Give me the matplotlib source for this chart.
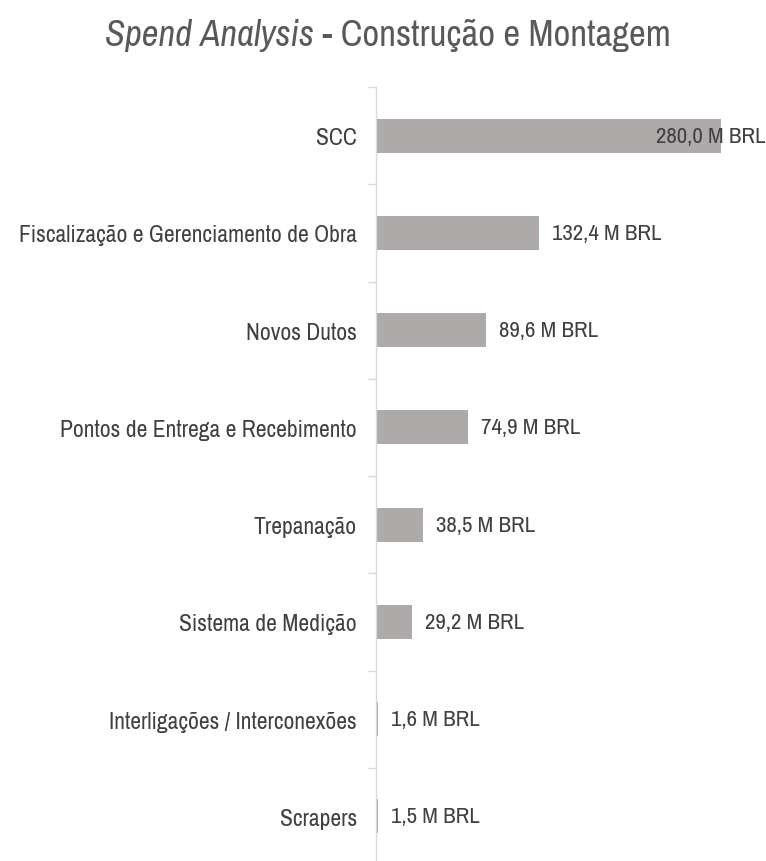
import numpy as np
import matplotlib
matplotlib.use("Agg")
import matplotlib.pyplot as plt
from matplotlib import font_manager

# data
categories = ['SCC', 'Fiscalização e Gerenciamento de Obra', 'Novos Dutos',
              'Pontos de Entrega e Recebimento', 'Trepanação', 'Sistema de Medição',
              'Interligações / Interconexões', 'Scrapers']
values = [280.0, 132.4, 89.6, 74.9, 38.5, 29.2, 1.6, 1.5]
labels = ['280,0 M BRL', '132,4 M BRL', '89,6 M BRL', '74,9 M BRL',
          '38,5 M BRL', '29,2 M BRL', '1,6 M BRL', '1,5 M BRL']

# look for a narrow font (Calibri-like), else Open Sans
names = sorted({f.name for f in font_manager.fontManager.ttflist})
narrow = [n for n in names if 'Narrow' in n or 'Condensed' in n]
plt.rcParams['font.family'] = narrow[:1] + ['Open Sans', 'DejaVu Sans']

W, H = 766, 862
fig = plt.figure(figsize=(W / 100, H / 100), dpi=100)
ax = fig.add_axes([376 / W, -4 / H, 1 - 376 / W, 778 / H])

y = np.arange(len(categories))
ax.barh(y, values, height=0.35, color='#aeaaaa')
ax.set_xlim(0, 316.5)
ax.set_ylim(len(categories) - 0.5, -0.5)

for s in ['top', 'right', 'bottom']:
    ax.spines[s].set_visible(False)
ax.spines['left'].set_color('#d9d9d9')
ax.spines['left'].set_linewidth(1.0)
ax.set_xticks([])

fs = 16.5 if narrow else 13.5
ax.set_yticks(y)
ax.set_yticklabels(categories, fontsize=fs * 1.03, color='#404040')
ax.tick_params(axis='y', which='major', length=0, pad=13.7)
ax.set_yticks(np.arange(-0.5, len(categories)), minor=True)
ax.tick_params(axis='y', which='minor', length=5.5, width=1.0, color='#d9d9d9')

fig.canvas.draw()
renderer = fig.canvas.get_renderer()
for yi, v, lab in zip(y, values, labels):
    t = ax.annotate(lab, (v, yi), xytext=(13, 0), textcoords='offset pixels',
                    ha='left', va='center', fontsize=fs, color='#404040')
    bb = t.get_window_extent(renderer)
    if bb.x1 > W - 1:
        t.set_position((W - 1 - bb.x1 + 13, 0))

# title with italic part
tfs = 26.4 if narrow else 21.6
t1 = fig.text(0, 0, 'Spend Analysis', fontsize=tfs, style='italic', color='#595959',
              va='center', ha='left')
t2 = fig.text(0, 0, ' - Construção e Montagem', fontsize=tfs, color='#595959',
              va='center', ha='left')
w1 = t1.get_window_extent(renderer).width
w2 = t2.get_window_extent(renderer).width
x0 = 388 - (w1 + w2) / 2
ty = 1 - 35 / H
t1.set_position((x0 / W, ty))
t2.set_position(((x0 + w1) / W, ty))

fig.savefig('out.png', dpi=100)
